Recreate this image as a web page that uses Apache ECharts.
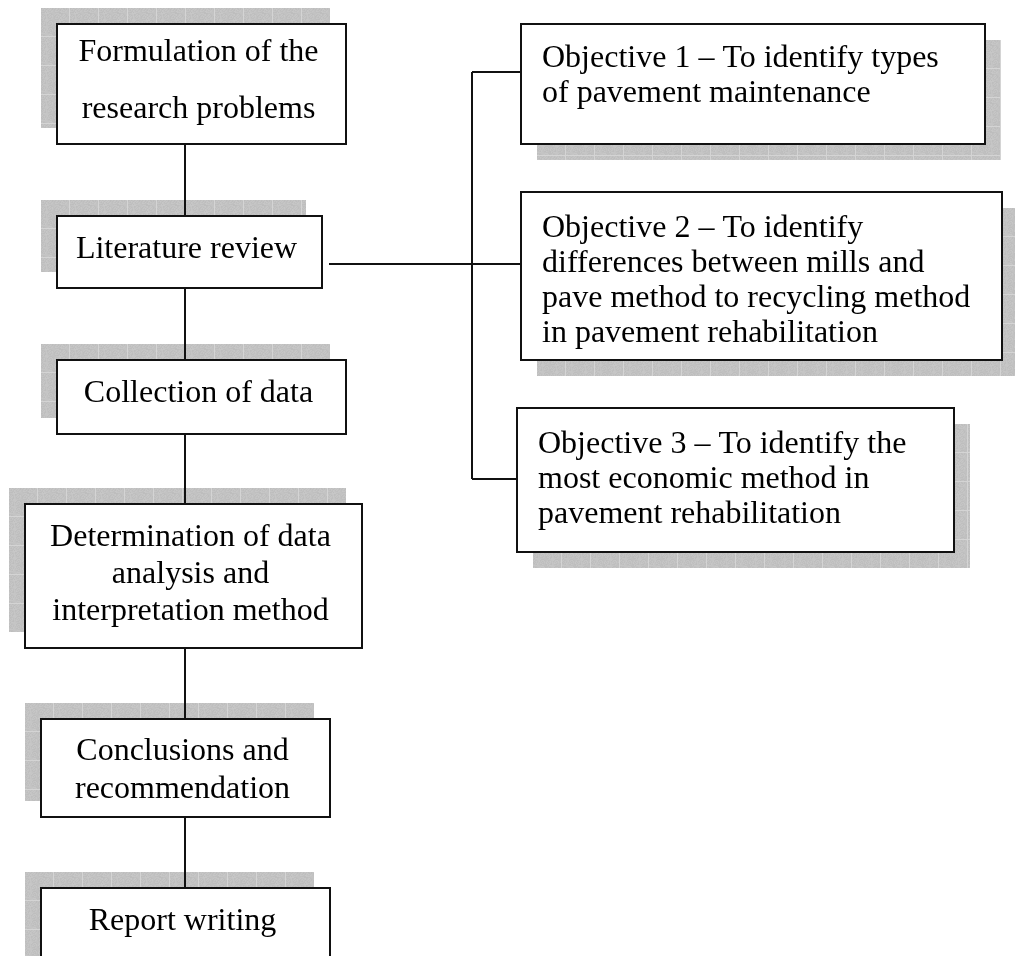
<!DOCTYPE html>
<html>
<head>
<meta charset="utf-8">
<script src="https://cdn.jsdelivr.net/npm/echarts@6/dist/echarts.min.js"></script>
<style>
html,body{margin:0;padding:0;background:#fff;}
#chart{width:1015px;height:956px;}
</style>
</head>
<body>
<div id="chart"></div>
<script>
// ---- Data (diagram units = page units of the original figure) ----
const stepLabels = [
  'Formulation of the\nresearch problems',
  'Literature review',
  'Collection of data',
  'Determination of data\nanalysis and\ninterpretation method',
  'Conclusions and\nrecommendation',
  'Report writing'
];
// [left, top, right, bottom]
const stepBoxes = [
  [57, 24, 346, 144],
  [57, 216, 322, 288],
  [57, 360, 346, 434],
  [25, 504, 362, 648],
  [41, 719, 330, 817],
  [41, 888, 330, 990]
];
const stepLineHeights = [57, 37, 37, 37, 38, 37];
const stepTextOffsets = [29, 34, 34, 34, 33, 34];

const objectiveLabels = [
  'Objective 1 \u2013 To identify types\nof pavement maintenance',
  'Objective 2 \u2013 To identify\ndifferences between mills and\npave method to recycling method\nin pavement rehabilitation',
  'Objective 3 \u2013 To identify the\nmost economic method in\npavement rehabilitation'
];
const objectiveBoxes = [
  [521, 24, 985, 144],
  [521, 192, 1002, 360],
  [517, 408, 954, 552]
];
const objectiveTextOffsets = [35, 37, 37];
const objectiveLinkY = [72, 264, 479];
const trunkX = 185;
const busX = 472;
const branchStartX = 329;

// ---- shadow texture ----
function makeTile() {
  const c = document.createElement('canvas');
  c.width = 29; c.height = 29;
  const ctx = c.getContext('2d');
  const img = ctx.createImageData(29, 29);
  for (let y = 0; y < 29; y++) {
    for (let x = 0; x < 29; x++) {
      let v = 194 + (((x * 37 + y * 91 + ((x * y) % 7) * 13) % 11) - 5);
      if (x === 28 || y === 28) v = 212;
      const i = (y * 29 + x) * 4;
      img.data[i] = v; img.data[i + 1] = v; img.data[i + 2] = v; img.data[i + 3] = 255;
    }
  }
  ctx.putImageData(img, 0, 0);
  return c;
}
const tile = makeTile();

const FONT = '32px "Liberation Serif", "Times New Roman", serif';

// boxes data: [l, t, r, b, kind(0=step,1=objective), index]
const boxData = stepBoxes.map((b, i) => [b[0], b[1], b[2], b[3], 0, i])
  .concat(objectiveBoxes.map((b, i) => [b[0], b[1], b[2], b[3], 1, i]));

// connectors
const links = [];
for (let i = 0; i < stepBoxes.length - 1; i++) {
  links.push({coords: [[trunkX, stepBoxes[i][3]], [trunkX, stepBoxes[i + 1][1]]]});
}
links.push({coords: [[branchStartX, objectiveLinkY[1]], [busX, objectiveLinkY[1]]]});
links.push({coords: [[busX, objectiveLinkY[0]], [busX, objectiveLinkY[2]]]});
objectiveBoxes.forEach((b, i) => {
  links.push({coords: [[busX, objectiveLinkY[i]], [b[0], objectiveLinkY[i]]]});
});

function shadowItem(params, api) {
  const kind = api.value(4);
  const off = kind === 0 ? -16 : 16;
  const p0 = api.coord([api.value(0) + off, api.value(1) + off]);
  const p1 = api.coord([api.value(2) + off, api.value(3) + off]);
  return {
    type: 'rect',
    x: p0[0], y: p0[1],
    shape: {x: 0, y: 0, width: p1[0] - p0[0], height: p1[1] - p0[1]},
    style: {fill: {image: tile, repeat: 'repeat'}},
    silent: true
  };
}

function boxItem(params, api) {
  const kind = api.value(4);
  const idx = api.value(5);
  const p0 = api.coord([api.value(0), api.value(1)]);
  const p1 = api.coord([api.value(2), api.value(3)]);
  const children = [{
    type: 'rect',
    shape: {x: p0[0], y: p0[1], width: p1[0] - p0[0], height: p1[1] - p0[1]},
    style: {fill: '#fff', stroke: '#111', lineWidth: 2}
  }];
  if (kind === 0) {
    const lh = stepLineHeights[idx];
    children.push({
      type: 'text',
      x: (p0[0] + p1[0]) / 2 - 3,
      y: p0[1] + stepTextOffsets[idx] - lh / 2,
      style: {text: stepLabels[idx], font: FONT, fill: '#000', align: 'center', verticalAlign: 'top', lineHeight: lh}
    });
  } else {
    const lh = 35;
    children.push({
      type: 'text',
      x: p0[0] + 21,
      y: p0[1] + objectiveTextOffsets[idx] - lh / 2,
      style: {text: objectiveLabels[idx], font: FONT, fill: '#000', align: 'left', verticalAlign: 'top', lineHeight: lh}
    });
  }
  return {type: 'group', children: children, silent: true};
}

const chart = echarts.init(document.getElementById('chart'));
chart.setOption({
  animation: false,
  backgroundColor: '#fff',
  grid: {left: 0, right: 0, top: 0, bottom: 0, containLabel: false},
  xAxis: {type: 'value', min: 0, max: 1015, show: false},
  yAxis: {type: 'value', min: 0, max: 956, inverse: true, show: false},
  series: [
    {type: 'custom', coordinateSystem: 'cartesian2d', renderItem: shadowItem, data: boxData, z: 1, silent: true, clip: false},
    {type: 'lines', coordinateSystem: 'cartesian2d', data: links, z: 2, silent: true,
     lineStyle: {color: '#111', width: 2, opacity: 1}, symbol: 'none'},
    {type: 'custom', coordinateSystem: 'cartesian2d', renderItem: boxItem, data: boxData, z: 3, silent: true, clip: false}
  ]
});
</script>
</body>
</html>
